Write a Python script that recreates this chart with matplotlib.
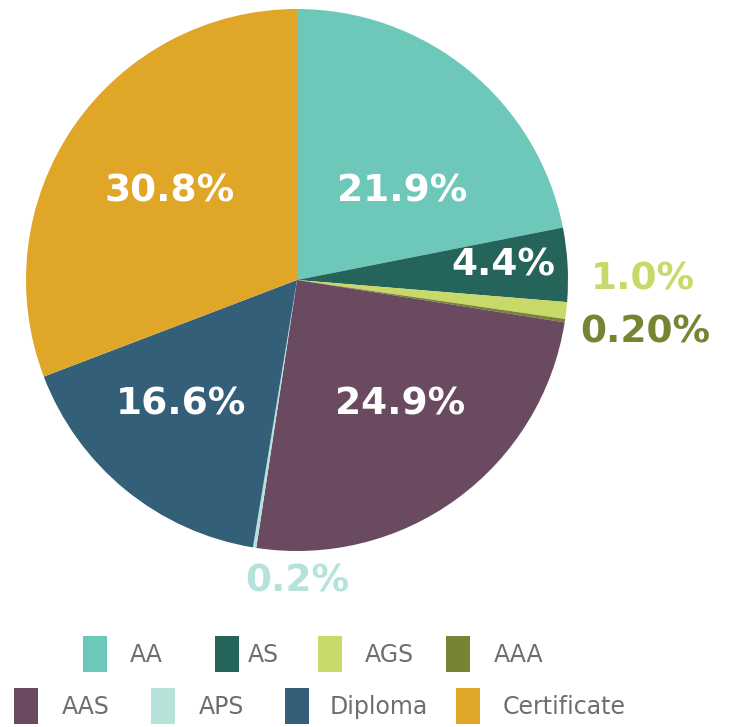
import matplotlib
matplotlib.use("Agg")
import matplotlib.pyplot as plt
from matplotlib.patches import Rectangle

categories = ["AA", "AS", "AGS", "AAA", "AAS", "APS", "Diploma", "Certificate"]
values = [21.9, 4.4, 1.0, 0.2, 24.9, 0.2, 16.6, 30.8]
value_labels = ["21.9%", "4.4%", "1.0%", "0.20%", "24.9%", "0.2%", "16.6%", "30.8%"]
colors = ["#6ec8b9", "#25645a", "#c8d96a", "#778434", "#6a4a60", "#b5e3da", "#345f79", "#e0a627"]
label_colors = ["white", "white", "#c8d96a", "#778434", "white", "#b5e3da", "white", "white"]
label_pos = [(0.387, 0.325), (0.760, 0.055), (1.277, 0.0), (1.284, -0.192),
             (0.380, -0.461), (0.0, -1.114), (-0.428, -0.461), (-0.469, 0.325)]

W, H = 730, 727
fig = plt.figure(figsize=(W / 100, H / 100), dpi=100)
cx, cy, r = 297, 280, 271
ax = fig.add_axes([(cx - r) / W, 1 - (cy + r) / H, 2 * r / W, 2 * r / H])
ax.pie(values, colors=colors, startangle=90, counterclock=False,
       wedgeprops=dict(edgecolor="none"), radius=1)
ax.set_xlim(-1, 1)
ax.set_ylim(-1, 1)
ax.set_aspect("equal")
ax.axis("off")

for lab, col, (x, y) in zip(value_labels, label_colors, label_pos):
    ax.text(x, y, lab, color=col, fontsize=27, fontweight="bold",
            ha="center", va="center", family=["DejaVu Sans"], clip_on=False)

# legend
legend_rows = [
    [(83, 130), (215, 248), (318, 365), (446, 494)],
    [(14, 62), (151, 199), (285, 330), (456, 503)],
]
row_y = [636, 688]
idx = 0
for ri, row in enumerate(legend_rows):
    for (px, tx) in row:
        y0 = row_y[ri]
        fig.patches.append(Rectangle((px / W, 1 - (y0 + 36) / H), 24 / W, 36 / H,
                                     transform=fig.transFigure, facecolor=colors[idx],
                                     edgecolor="none"))
        fig.text(tx / W, 1 - (y0 + 19) / H, categories[idx], color="#6d6e70",
                 fontsize=17, ha="left", va="center",
                 family=["Liberation Sans Narrow", "DejaVu Sans"])
        idx += 1

fig.savefig("out.png", dpi=100, facecolor="white")
